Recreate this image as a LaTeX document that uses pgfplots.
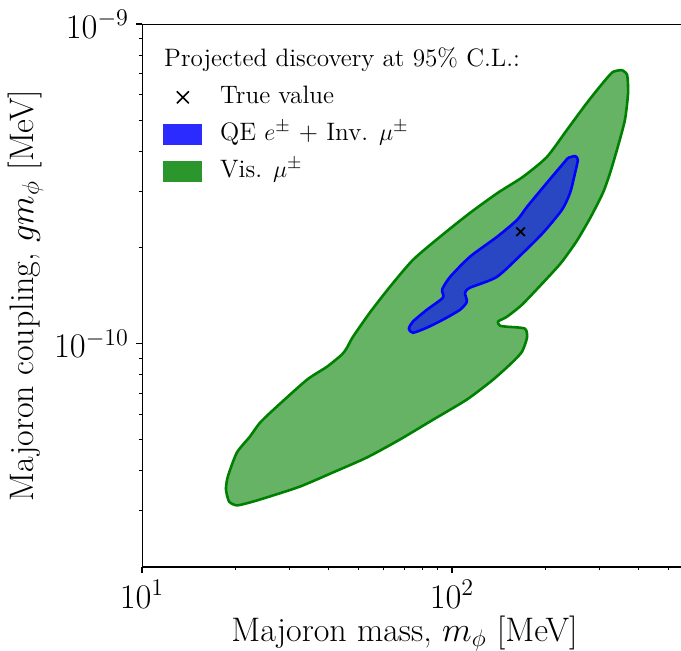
\documentclass[border=0pt]{standalone}
\usepackage{pgfplots}
\usepackage{pgfplotstable}
\pgfplotsset{compat=1.18}

\definecolor{cgreen}{RGB}{0,128,0}
\definecolor{cblue}{RGB}{0,0,255}
\colorlet{leggreen}{cgreen!83!white}
\colorlet{legblue}{cblue!83!white}

% contour outlines, stored as log10(m) and log10(g)
\pgfplotstableread{
lx ly
2.548 -9.144
2.565 -9.159
2.568 -9.216
2.558 -9.300
2.535 -9.384
2.510 -9.466
2.487 -9.528
2.448 -9.603
2.403 -9.678
2.352 -9.747
2.294 -9.809
2.226 -9.878
2.177 -9.916
2.148 -9.931
2.155 -9.944
2.177 -9.947
2.235 -9.953
2.242 -9.981
2.226 -10.025
2.194 -10.059
2.132 -10.113
2.048 -10.175
1.939 -10.238
1.832 -10.300
1.726 -10.356
1.616 -10.403
1.510 -10.447
1.403 -10.481
1.348 -10.497
1.306 -10.506
1.281 -10.494
1.271 -10.456
1.277 -10.416
1.306 -10.341
1.348 -10.291
1.381 -10.247
1.435 -10.197
1.532 -10.113
1.597 -10.072
1.645 -10.034
1.661 -10.013
1.681 -9.978
1.735 -9.903
1.800 -9.822
1.874 -9.738
1.961 -9.666
2.058 -9.591
2.148 -9.528
2.229 -9.478
2.306 -9.416
2.371 -9.331
2.435 -9.247
2.487 -9.184
2.519 -9.150
2.548 -9.144
}\vistab

\pgfplotstableread{
lx ly
2.374 -9.419
2.397 -9.413
2.406 -9.425
2.397 -9.466
2.381 -9.528
2.355 -9.581
2.294 -9.653
2.229 -9.716
2.145 -9.791
2.058 -9.825
2.042 -9.841
2.048 -9.869
2.026 -9.894
1.971 -9.925
1.919 -9.950
1.874 -9.966
1.861 -9.953
1.874 -9.931
1.919 -9.894
1.971 -9.856
1.968 -9.831
1.994 -9.791
2.058 -9.728
2.145 -9.666
2.210 -9.613
2.242 -9.572
2.306 -9.497
2.374 -9.419
}\qetab

\begin{document}
\begin{tikzpicture}
\begin{axis}[
    at={(0,0)}, anchor=south west,
    scale only axis, width=269.5pt, height=271.5pt,
    xmode=log, ymode=log,
    xmin=10, xmax=548, ymin=2e-11, ymax=1e-9,
    axis line style={draw=none},
    xtick={10,100}, ytick={1e-10,1e-9},
    minor xtick={20,30,40,50,60,70,80,90,200,300,400,500},
    minor ytick={3e-11,4e-11,5e-11,6e-11,7e-11,8e-11,9e-11,2e-10,3e-10,4e-10,5e-10,6e-10,7e-10,8e-10,9e-10},
    tick align=outside, xtick pos=bottom, ytick pos=left,
    major tick length=3pt, minor tick length=1.7pt,
    every tick/.style={black, line width=0.6pt},
    every minor tick/.append style={line width=0.45pt},
    tick label style={font=\fontsize{16.5}{19}\selectfont},
    label style={font=\fontsize{17}{20}\selectfont},
    xlabel={Majoron mass, $m_\phi$ [MeV]},
    ylabel={Majoron coupling, $g m_\phi$ [MeV]},
    xlabel style={xshift=-3.5pt, yshift=3pt},
    ylabel style={yshift=-1.5pt},
    legend style={draw=none, fill=none, at={(rel axis cs:0.039,0.956)},
        anchor=north west, font=\fontsize{12.6}{15}\selectfont,
        row sep=6.5pt, column sep=9pt, inner sep=0pt,
        nodes={inner sep=0pt, text height=9pt, text depth=3pt}},
    legend cell align=left,
]
\addlegendimage{empty legend}
\addlegendentry{\hspace*{-28pt}Projected discovery at 95\% C.L.:}
\addlegendimage{legend image code/.code={\draw[black, line width=0.8pt] (6.5pt,-3pt)--(12.5pt,3pt) (6.5pt,3pt)--(12.5pt,-3pt);}}
\addlegendentry{True value}
\addlegendimage{legend image code/.code={\fill[legblue] (0pt,-5pt) rectangle (19pt,5pt);}}
\addlegendentry{QE $e^\pm$ + Inv. $\mu^\pm$}
\addlegendimage{legend image code/.code={\fill[leggreen] (0pt,-5pt) rectangle (19pt,5pt);}}
\addlegendentry{Vis. $\mu^\pm$}

\addplot[forget plot, smooth, tension=0.4, draw=cgreen, line width=1.3pt,
    line join=round, fill=cgreen, fill opacity=0.6, draw opacity=1]
    table[x expr={10^(\thisrow{lx})}, y expr={10^(\thisrow{ly})}] {\vistab};
\addplot[forget plot, smooth, tension=0.4, draw=cblue, line width=1.3pt,
    line join=round, fill=cblue, fill opacity=0.6, draw opacity=1]
    table[x expr={10^(\thisrow{lx})}, y expr={10^(\thisrow{ly})}] {\qetab};
\addplot[forget plot, only marks, mark=x, mark size=3pt, black,
    mark options={line width=0.9pt}] coordinates {(166.5,2.24e-10)};

\draw[black, line width=0.65pt] (rel axis cs:1,1) -- (rel axis cs:0,1)
    -- (rel axis cs:0,0) -- (rel axis cs:1,0);
\end{axis}
\pgfresetboundingbox
\path (-71pt,-42pt) rectangle (269.5pt,283.5pt);
\end{tikzpicture}
\end{document}
